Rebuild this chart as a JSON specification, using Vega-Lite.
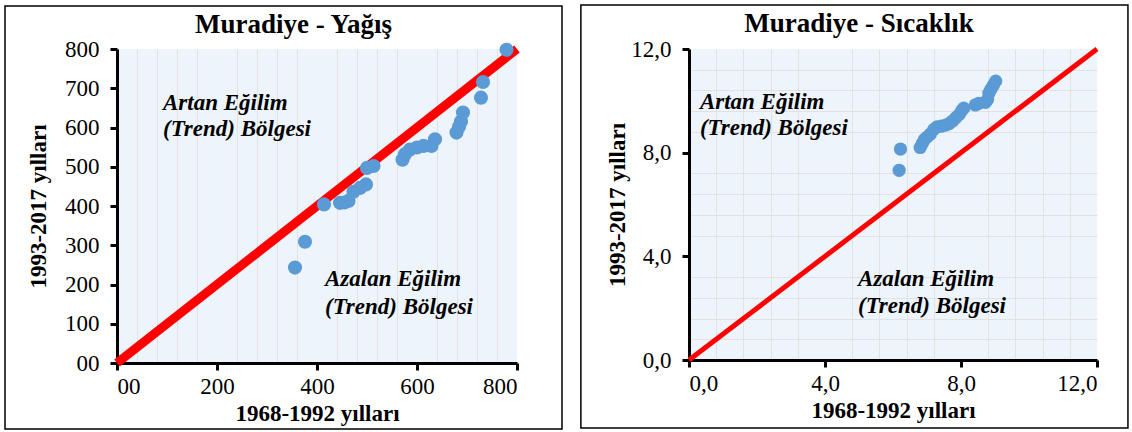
{
  "$schema": "https://vega.github.io/schema/vega-lite/v6.json",
  "padding": {"left": 4, "top": 4, "right": 0, "bottom": 0},
  "background": "white",
  "spacing": 17,
  "datasets": {
    "yagis": [
      {"d1": 356, "d2": 243}, {"d1": 376, "d2": 309}, {"d1": 414, "d2": 404}, {"d1": 446, "d2": 408},
      {"d1": 455, "d2": 409}, {"d1": 463, "d2": 413}, {"d1": 473, "d2": 436}, {"d1": 486, "d2": 446},
      {"d1": 498, "d2": 455}, {"d1": 500, "d2": 497}, {"d1": 513, "d2": 502}, {"d1": 571, "d2": 518},
      {"d1": 576, "d2": 532}, {"d1": 586, "d2": 544}, {"d1": 600, "d2": 549}, {"d1": 613, "d2": 553},
      {"d1": 629, "d2": 553}, {"d1": 636, "d2": 570}, {"d1": 679, "d2": 587}, {"d1": 684, "d2": 602},
      {"d1": 688, "d2": 615}, {"d1": 692, "d2": 638}, {"d1": 728, "d2": 676}, {"d1": 732, "d2": 716},
      {"d1": 779, "d2": 798}
    ],
    "sicaklik": [
      {"d1": 6.18, "d2": 7.32}, {"d1": 6.22, "d2": 8.14}, {"d1": 6.80, "d2": 8.20}, {"d1": 6.86, "d2": 8.35},
      {"d1": 6.92, "d2": 8.50}, {"d1": 7.00, "d2": 8.60}, {"d1": 7.10, "d2": 8.72}, {"d1": 7.20, "d2": 8.90},
      {"d1": 7.30, "d2": 9.00}, {"d1": 7.42, "d2": 9.02}, {"d1": 7.55, "d2": 9.06}, {"d1": 7.65, "d2": 9.12},
      {"d1": 7.75, "d2": 9.22}, {"d1": 7.85, "d2": 9.35}, {"d1": 7.95, "d2": 9.48}, {"d1": 8.02, "d2": 9.62},
      {"d1": 8.08, "d2": 9.72}, {"d1": 8.42, "d2": 9.84}, {"d1": 8.52, "d2": 9.90}, {"d1": 8.72, "d2": 9.94},
      {"d1": 8.78, "d2": 10.05}, {"d1": 8.82, "d2": 10.30}, {"d1": 8.88, "d2": 10.45}, {"d1": 8.95, "d2": 10.60},
      {"d1": 9.02, "d2": 10.76}
    ],
    "line1": [{"d1": 0, "d2": 0}, {"d1": 800, "d2": 800}],
    "line2": [{"d1": 0, "d2": 0}, {"d1": 12, "d2": 12}],
    "one": [{}]
  },
  "hconcat": [
    {
      "width": 400,
      "height": 314,
      "resolve": {"axis": {"x": "independent", "y": "independent"}},
      "layer": [
        {
          "data": {"name": "one"},
          "mark": {"type": "rect", "fill": "transparent", "stroke": "#000", "strokeWidth": 1.5, "clip": false},
          "encoding": {
            "x": {"datum": -224, "type": "quantitative", "scale": {"domain": [0, 800], "nice": false, "zero": false}, "axis": null},
            "x2": {"datum": 890},
            "y": {"datum": 909.6, "type": "quantitative", "scale": {"domain": [0, 800], "nice": false, "zero": false}, "axis": null},
            "y2": {"datum": -168.2}
          }
        },
        {
          "data": {"name": "line1"},
          "mark": {"type": "line", "color": "#ff0000", "strokeWidth": 9},
          "encoding": {
            "x": {"field": "d1", "type": "quantitative", "scale": {"domain": [0, 800], "nice": false, "zero": false},
                  "axis": {"orient": "top", "grid": true, "labels": false, "ticks": false, "domain": false, "title": null, "gridColor": "#e2e2e2", "gridWidth": 1,
                           "values": [40, 80, 120, 160, 240, 280, 320, 360, 440, 480, 520, 560, 640, 680, 720, 760]}},
            "y": {"field": "d2", "type": "quantitative", "scale": {"domain": [0, 800], "nice": false, "zero": false}, "axis": null}
          }
        },
        {
          "data": {"name": "yagis"},
          "mark": {"type": "circle", "color": "#5b9bd5", "opacity": 1, "size": 200},
          "encoding": {
            "x": {"field": "d1", "type": "quantitative", "scale": {"domain": [0, 800], "nice": false, "zero": false},
                  "axis": {"title": "1968-1992 yılları", "values": [0, 200, 400, 600, 800], "labelExpr": "datum.value === 0 ? '00' : datum.label", "titlePadding": 4, "labelPadding": 5}},
            "y": {"field": "d2", "type": "quantitative", "scale": {"domain": [0, 800], "nice": false, "zero": false},
                  "axis": {"title": "1993-2017 yılları", "values": [0, 100, 200, 300, 400, 500, 600, 700, 800], "labelExpr": "datum.value === 0 ? '00' : datum.label", "titlePadding": 14, "labelPadding": 11}}
          }
        },
        {
          "data": {"name": "one"},
          "mark": {"type": "text", "align": "center", "baseline": "alphabetic", "font": "Liberation Serif", "fontSize": 27, "fontWeight": "bold", "color": "#000", "clip": false},
          "encoding": {"x": {"datum": 353, "type": "quantitative", "axis": null}, "y": {"datum": 840, "type": "quantitative", "axis": null}, "text": {"value": "Muradiye - Yağış"}}
        },
        {
          "data": {"name": "one"},
          "mark": {"type": "text", "align": "left", "baseline": "middle", "font": "Liberation Serif", "fontSize": 23, "fontWeight": "bold", "fontStyle": "italic", "color": "#000"},
          "encoding": {"x": {"datum": 92, "type": "quantitative", "axis": null}, "y": {"datum": 662, "type": "quantitative", "axis": null}, "text": {"value": "Artan Eğilim"}}
        },
        {
          "data": {"name": "one"},
          "mark": {"type": "text", "align": "left", "baseline": "middle", "font": "Liberation Serif", "fontSize": 23, "fontWeight": "bold", "fontStyle": "italic", "color": "#000"},
          "encoding": {"x": {"datum": 92, "type": "quantitative", "axis": null}, "y": {"datum": 596, "type": "quantitative", "axis": null}, "text": {"value": "(Trend) Bölgesi"}}
        },
        {
          "data": {"name": "one"},
          "mark": {"type": "text", "align": "left", "baseline": "middle", "font": "Liberation Serif", "fontSize": 23, "fontWeight": "bold", "fontStyle": "italic", "color": "#000"},
          "encoding": {"x": {"datum": 416, "type": "quantitative", "axis": null}, "y": {"datum": 214, "type": "quantitative", "axis": null}, "text": {"value": "Azalan Eğilim"}}
        },
        {
          "data": {"name": "one"},
          "mark": {"type": "text", "align": "left", "baseline": "middle", "font": "Liberation Serif", "fontSize": 23, "fontWeight": "bold", "fontStyle": "italic", "color": "#000"},
          "encoding": {"x": {"datum": 416, "type": "quantitative", "axis": null}, "y": {"datum": 143, "type": "quantitative", "axis": null}, "text": {"value": "(Trend) Bölgesi"}}
        }
      ]
    },
    {
      "width": 408,
      "height": 311,
      "resolve": {"axis": {"x": "independent", "y": "independent"}},
      "layer": [
        {
          "data": {"name": "one"},
          "mark": {"type": "rect", "fill": "transparent", "stroke": "#000", "strokeWidth": 1.5, "clip": false},
          "encoding": {
            "x": {"datum": -3.18, "type": "quantitative", "scale": {"domain": [0, 12], "nice": false, "zero": false}, "axis": null},
            "x2": {"datum": 12.91},
            "y": {"datum": 13.698, "type": "quantitative", "scale": {"domain": [0, 12], "nice": false, "zero": false}, "axis": null},
            "y2": {"datum": -2.624}
          }
        },
        {
          "data": {"name": "line2"},
          "mark": {"type": "line", "color": "#ff0000", "strokeWidth": 5},
          "encoding": {
            "x": {"field": "d1", "type": "quantitative", "scale": {"domain": [0, 12], "nice": false, "zero": false},
                  "axis": {"orient": "top", "grid": true, "labels": false, "ticks": false, "domain": false, "title": null, "gridColor": "#e2e2e2", "gridWidth": 1,
                           "values": [0.8, 1.6, 2.4, 3.2, 4.8, 5.6, 6.4, 7.2, 8.8, 9.6, 10.4, 11.2]}},
            "y": {"field": "d2", "type": "quantitative", "scale": {"domain": [0, 12], "nice": false, "zero": false},
                  "axis": {"orient": "right", "grid": true, "labels": false, "ticks": false, "domain": false, "title": null, "gridColor": "#e2e2e2", "gridWidth": 1,
                           "values": [0.8, 1.6, 2.4, 3.2, 4.8, 5.6, 6.4, 7.2, 8.8, 9.6, 10.4, 11.2]}}
          }
        },
        {
          "data": {"name": "sicaklik"},
          "mark": {"type": "circle", "color": "#5b9bd5", "opacity": 1, "size": 175},
          "encoding": {
            "x": {"field": "d1", "type": "quantitative", "scale": {"domain": [0, 12], "nice": false, "zero": false},
                  "axis": {"title": "1968-1992 yılları", "values": [0, 4, 8, 12], "labelExpr": "replace(format(datum.value, '.1f'), '.', ',')", "titlePadding": 4, "labelPadding": 5}},
            "y": {"field": "d2", "type": "quantitative", "scale": {"domain": [0, 12], "nice": false, "zero": false},
                  "axis": {"title": "1993-2017 yılları", "values": [0, 4, 8, 12], "labelExpr": "replace(format(datum.value, '.1f'), '.', ',')", "titlePadding": 1, "labelPadding": 11}}
          }
        },
        {
          "data": {"name": "one"},
          "mark": {"type": "text", "align": "center", "baseline": "alphabetic", "font": "Liberation Serif", "fontSize": 27, "fontWeight": "bold", "color": "#000", "clip": false},
          "encoding": {"x": {"datum": 5.0, "type": "quantitative", "axis": null}, "y": {"datum": 12.656, "type": "quantitative", "axis": null}, "text": {"value": "Muradiye - Sıcaklık"}}
        },
        {
          "data": {"name": "one"},
          "mark": {"type": "text", "align": "left", "baseline": "middle", "font": "Liberation Serif", "fontSize": 23, "fontWeight": "bold", "fontStyle": "italic", "color": "#000"},
          "encoding": {"x": {"datum": 0.32, "type": "quantitative", "axis": null}, "y": {"datum": 9.96, "type": "quantitative", "axis": null}, "text": {"value": "Artan Eğilim"}}
        },
        {
          "data": {"name": "one"},
          "mark": {"type": "text", "align": "left", "baseline": "middle", "font": "Liberation Serif", "fontSize": 23, "fontWeight": "bold", "fontStyle": "italic", "color": "#000"},
          "encoding": {"x": {"datum": 0.32, "type": "quantitative", "axis": null}, "y": {"datum": 8.95, "type": "quantitative", "axis": null}, "text": {"value": "(Trend) Bölgesi"}}
        },
        {
          "data": {"name": "one"},
          "mark": {"type": "text", "align": "left", "baseline": "middle", "font": "Liberation Serif", "fontSize": 23, "fontWeight": "bold", "fontStyle": "italic", "color": "#000"},
          "encoding": {"x": {"datum": 4.97, "type": "quantitative", "axis": null}, "y": {"datum": 3.13, "type": "quantitative", "axis": null}, "text": {"value": "Azalan Eğilim"}}
        },
        {
          "data": {"name": "one"},
          "mark": {"type": "text", "align": "left", "baseline": "middle", "font": "Liberation Serif", "fontSize": 23, "fontWeight": "bold", "fontStyle": "italic", "color": "#000"},
          "encoding": {"x": {"datum": 4.97, "type": "quantitative", "axis": null}, "y": {"datum": 2.08, "type": "quantitative", "axis": null}, "text": {"value": "(Trend) Bölgesi"}}
        }
      ]
    }
  ],
  "config": {
    "font": "Liberation Serif",
    "view": {"stroke": null, "fill": "#eef4fb"},
    "axis": {
      "labelFont": "Liberation Serif", "labelFontSize": 23, "labelColor": "#000",
      "titleFont": "Liberation Serif", "titleFontSize": 23, "titleFontWeight": "bold", "titleColor": "#000",
      "domainColor": "#000", "domainWidth": 3, "tickColor": "#000", "tickWidth": 3, "tickSize": 7,
      "gridColor": "#d2d2d2", "gridWidth": 1.5, "grid": true
    }
  }
}
